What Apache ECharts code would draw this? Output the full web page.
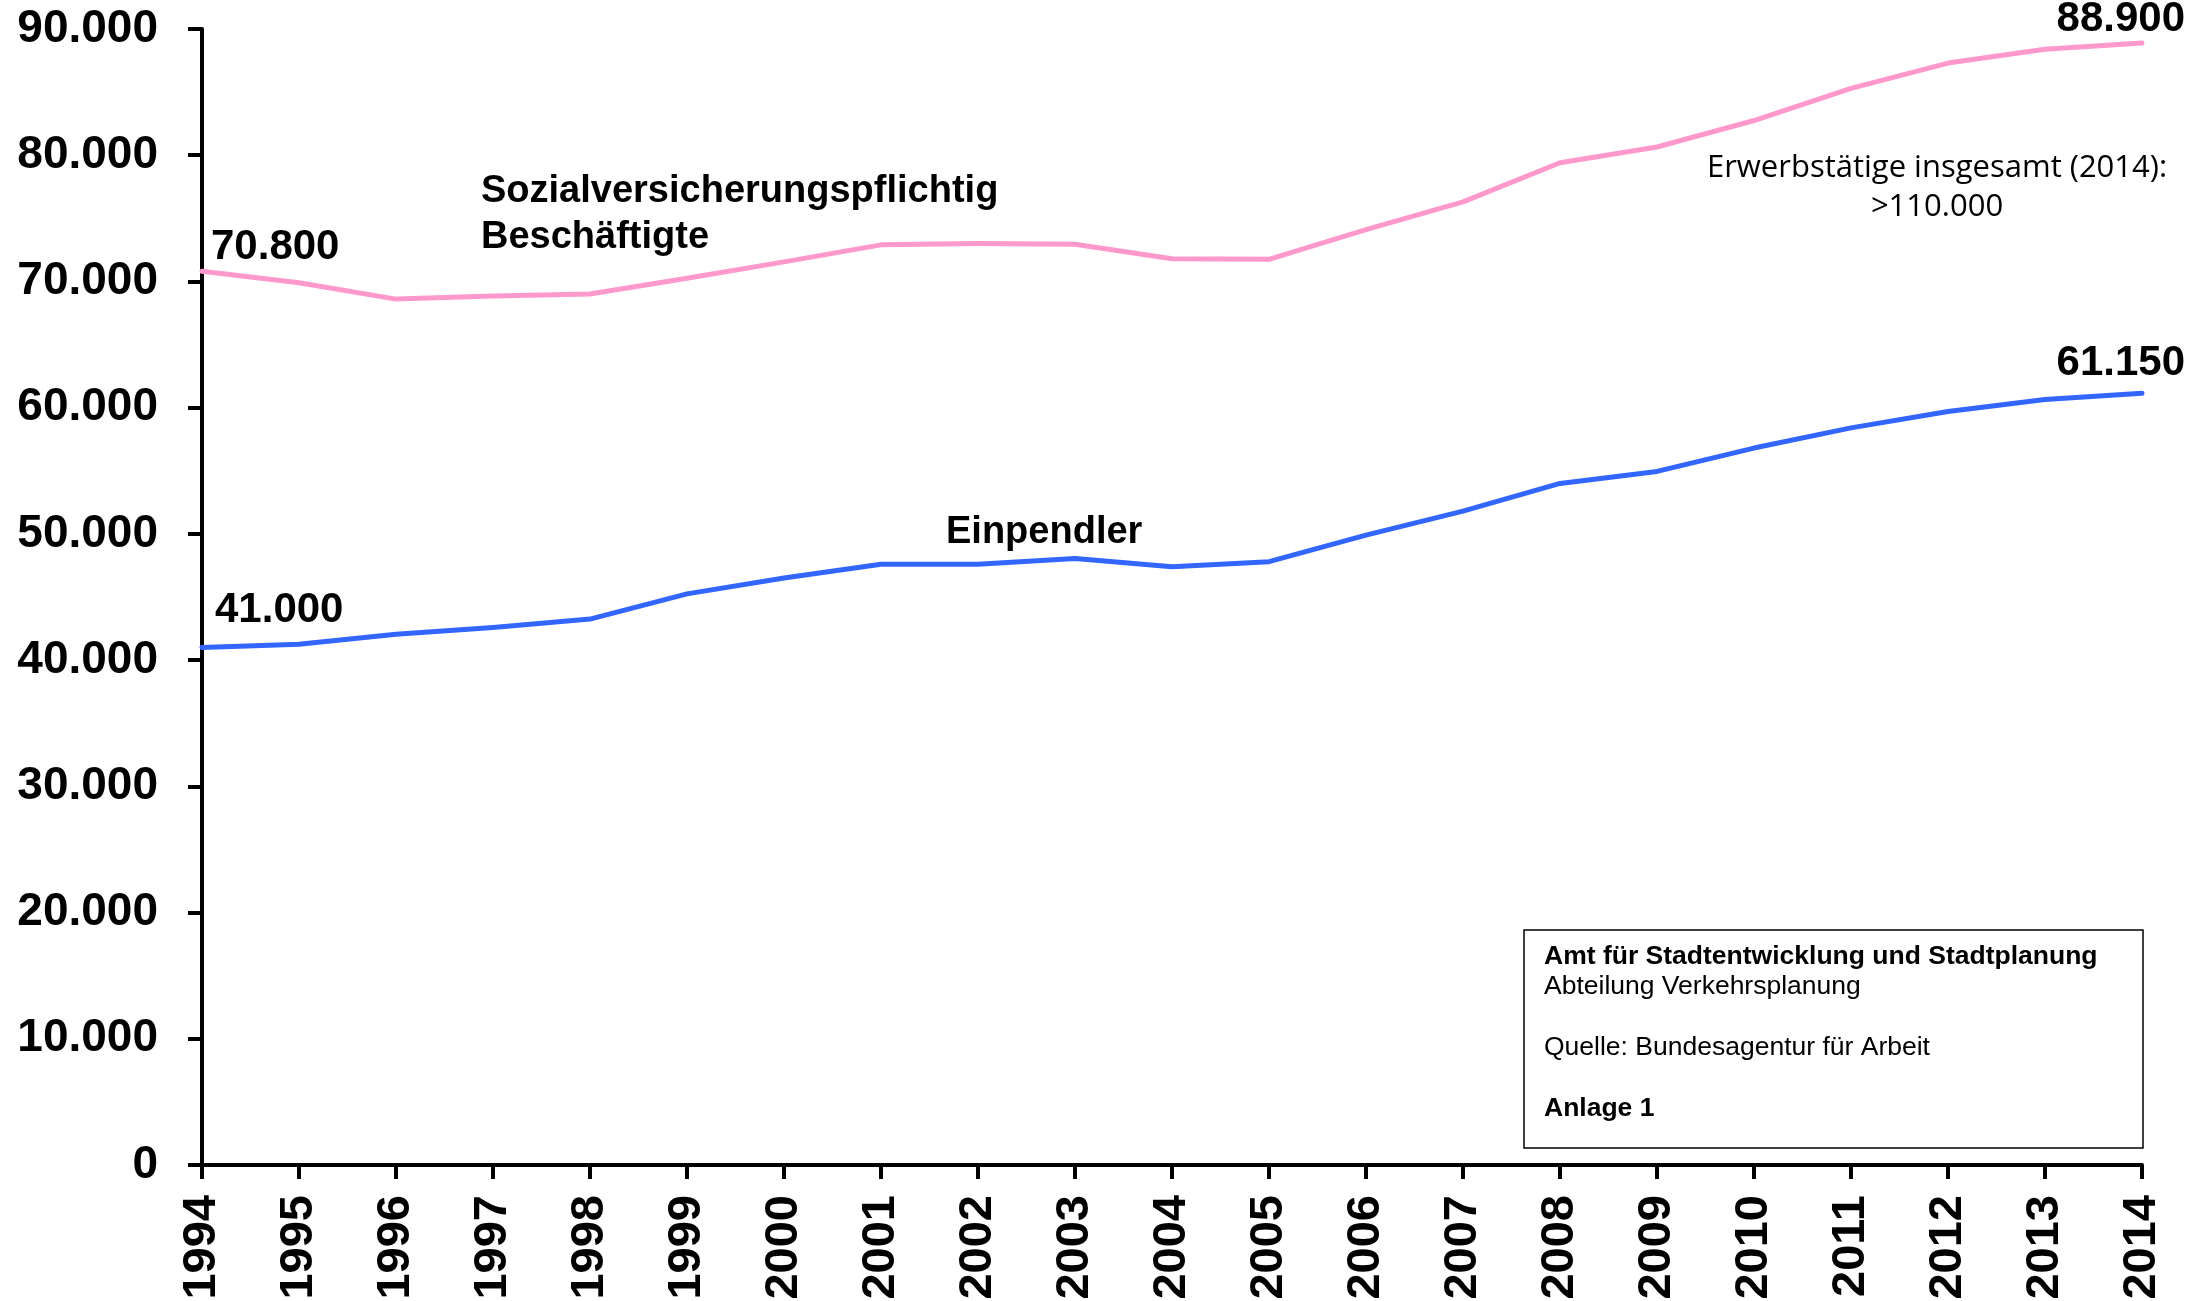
<!DOCTYPE html>
<html>
<head>
<meta charset="utf-8">
<script src="https://cdn.jsdelivr.net/npm/echarts@6/dist/echarts.min.js"></script>
<style>
html,body{margin:0;padding:0;background:#fff;}
#chart{width:2190px;height:1301px;}
</style>
</head>
<body>
<div id="chart"></div>
<script>
const years = ['1994','1995','1996','1997','1998','1999','2000','2001','2002','2003','2004','2005','2006','2007','2008','2009','2010','2011','2012','2013','2014'];
const sozialBeschaeftigte = [70800,69900,68600,68850,69000,70250,71550,72900,73000,72950,71800,71750,74100,76300,79400,80650,82750,85300,87300,88400,88900];
const einpendler = [41000,41250,42050,42580,43250,45250,46500,47600,47600,48050,47400,47800,49900,51800,54000,54950,56800,58400,59700,60650,61150];
const yTickValues = [0,10000,20000,30000,40000,50000,60000,70000,80000,90000];
const yTickLabels = ['0','10.000','20.000','30.000','40.000','50.000','60.000','70.000','80.000','90.000'];
const seriesNames = ['Sozialversicherungspflichtig\nBeschäftigte','Einpendler'];
const valueLabels = {sozialFirst:'70.800', sozialLast:'88.900', einFirst:'41.000', einLast:'61.150'};
const noteText = 'Erwerbstätige insgesamt (2014):\n>110.000';
const boxLines = ['Amt für Stadtentwicklung und Stadtplanung','Abteilung Verkehrsplanung','','Quelle: Bundesagentur für Arbeit','','Anlage 1'];

const PINK = '#FF99CC';
const BLUE = '#3366FF';
const ARIAL = '"Liberation Sans", Arial, Helvetica, sans-serif';
const labelFont = {fontFamily: ARIAL, fontWeight:'bold', fontSize:42, color:'#000'};

function buildData(vals, firstText, lastText, firstPos, lastPos) {
  return vals.map((v, i) => {
    if (i === 0) return {value: v, label: Object.assign({show:true, formatter: firstText, position: firstPos, align:'left', verticalAlign:'middle'}, labelFont)};
    if (i === vals.length - 1) return {value: v, label: Object.assign({show:true, formatter: lastText, position: lastPos, align:'right', verticalAlign:'middle'}, labelFont)};
    return v;
  });
}

const chart = echarts.init(document.getElementById('chart'), null, {renderer:'canvas'});
const option = {
  animation: false,
  backgroundColor: '#fff',
  grid: {left: 202, right: 48, top: 29, bottom: 136, containLabel: false, outerBoundsMode: 'none'},
  xAxis: {
    type: 'category',
    data: years,
    boundaryGap: false,
    axisLine: {lineStyle: {color:'#000', width: 4}},
    axisTick: {show:true, length: 14, lineStyle: {color:'#000', width: 4}},
    axisLabel: {rotate: 90, margin: 30, interval: 0, color:'#000', fontFamily: ARIAL, fontWeight:'bold', fontSize: 47},
    splitLine: {show:false}
  },
  yAxis: {
    type: 'value',
    min: 0, max: 90000, interval: 10000,
    axisLine: {show:true, lineStyle: {color:'#000', width: 4}},
    axisTick: {show:true, length: 14, lineStyle: {color:'#000', width: 4}},
    axisLabel: {margin: 44, color:'#000', fontFamily: ARIAL, fontWeight:'bold', fontSize: 46,
      formatter: v => { const i = yTickValues.indexOf(v); return i >= 0 ? yTickLabels[i] : ''; }},
    splitLine: {show:false}
  },
  series: [
    {
      name: seriesNames[0], type: 'line',
      data: buildData(sozialBeschaeftigte, valueLabels.sozialFirst, valueLabels.sozialLast, [10, -23], [44, -22]),
      symbol: 'circle', symbolSize: 2, showSymbol: true,
      itemStyle: {color: PINK},
      lineStyle: {color: PINK, width: 5, cap: 'round', join: 'round'},
      z: 3
    },
    {
      name: seriesNames[1], type: 'line',
      data: buildData(einpendler, valueLabels.einFirst, valueLabels.einLast, [14, -36], [44, -29]),
      symbol: 'circle', symbolSize: 2, showSymbol: true,
      itemStyle: {color: BLUE},
      lineStyle: {color: BLUE, width: 5, cap: 'round', join: 'round'},
      z: 3
    }
  ],
  graphic: [
    {type:'text', left: 481, top: 169, style: {text: seriesNames[0], font: 'bold 38px ' + ARIAL, fill:'#000', lineHeight: 45.5}},
    {type:'text', left: 946, top: 514, style: {text: seriesNames[1], font: 'bold 38px ' + ARIAL, fill:'#000'}},
    {type:'text', x: 1937, y: 149, style: {text: noteText, font: '31px "Open Sans", "Noto Sans", sans-serif', fill:'#000', align:'center', lineHeight: 39}},
    {type:'rect', shape: {x: 1524, y: 930, width: 619, height: 218}, style: {fill:'#fff', stroke:'#000', lineWidth: 1.5}, z: 10},
    {type:'text', x: 1544, y: 941, z: 11, style: {
      rich: {b: {font:'bold 26.5px ' + ARIAL, fill:'#000', lineHeight: 30.5}, n: {font:'26.5px ' + ARIAL, fill:'#000', lineHeight: 30.5}},
      text: boxLines.map((t, i) => (i === 0 || i === 5) ? '{b|' + t + '}' : (t ? '{n|' + t + '}' : '{n| }')).join('\n')
    }}
  ]
};
chart.setOption(option);
</script>
</body>
</html>
